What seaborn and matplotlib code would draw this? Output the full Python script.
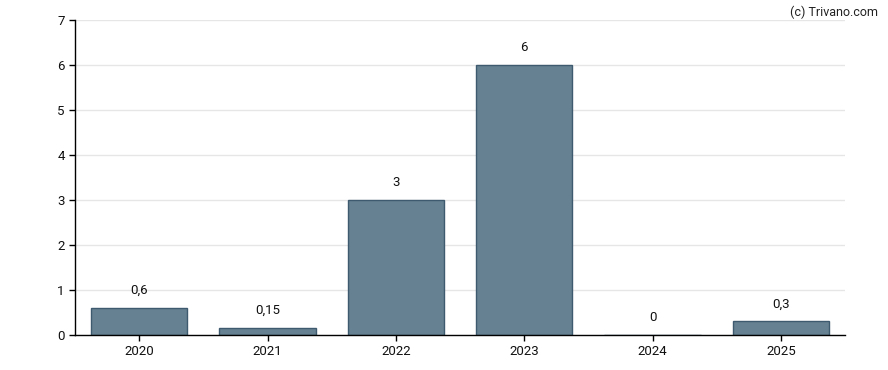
import matplotlib
matplotlib.use("Agg")
import matplotlib.pyplot as plt
import seaborn as sns
import pandas as pd

years = ["2020", "2021", "2022", "2023", "2024", "2025"]
values = [0.6, 0.15, 3, 6, 0, 0.3]
labels = ["0,6", "0,15", "3", "6", "0", "0,3"]

df = pd.DataFrame({"year": years, "value": values})

sns.set_style("white")
plt.rcParams["font.family"] = ["Roboto", "DejaVu Sans"]

fig = plt.figure(figsize=(8.88, 3.7), dpi=100)
ax = fig.add_axes([0.0845, 0.0946, 0.8671, 0.8514])

sns.barplot(data=df, x="year", y="value", color="#668192", saturation=1,
            width=0.75, edgecolor="#3e5a6e", linewidth=1, ax=ax, zorder=2)

for i, (v, lab) in enumerate(zip(values, labels)):
    ax.annotate(lab, (i, v), xytext=(0, 8), textcoords="offset points",
                ha="center", va="bottom", fontsize=9.5, color="#111111")

ax.set_ylim(0, 7)
ax.set_xlim(-0.5, 5.5)
ax.set_yticks(range(0, 8))
ax.yaxis.grid(True, color="#e6e6e6", linewidth=1, zorder=0)
ax.set_axisbelow(True)
ax.set_xlabel("")
ax.set_ylabel("")
sns.despine(ax=ax)
for s in ["left", "bottom"]:
    ax.spines[s].set_color("black")
    ax.spines[s].set_linewidth(1)
    ax.spines[s].set_zorder(3)
ax.tick_params(axis="both", direction="out", length=4, width=1, color="black",
               labelsize=9.5, labelcolor="#111111", left=True, bottom=True)

fig.text(0.989, 0.985, "(c) Trivano.com", ha="right", va="top", fontsize=9,
         color="#222222")

fig.savefig("out.png", dpi=100)
